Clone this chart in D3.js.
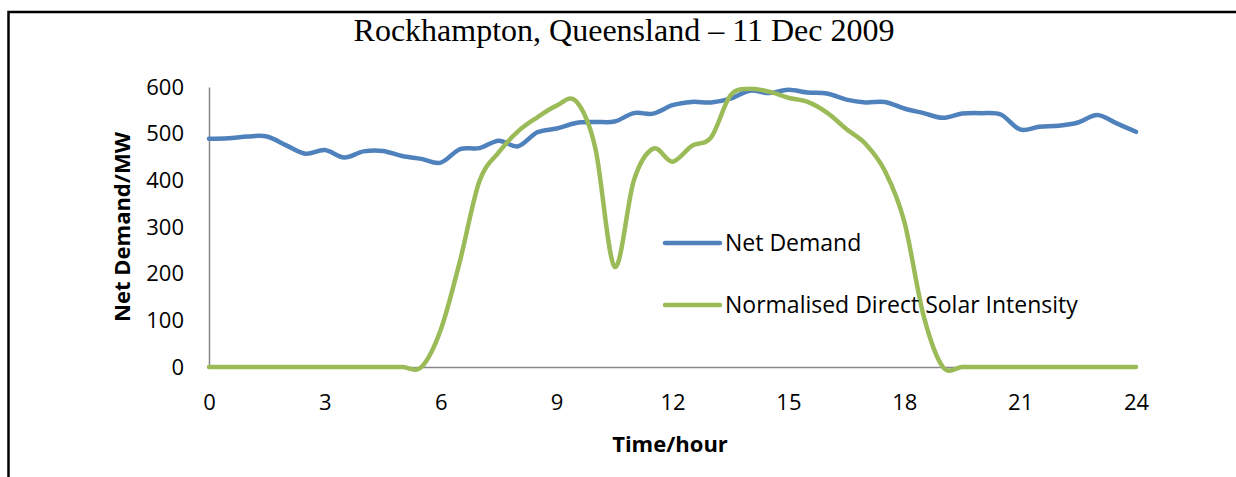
<!DOCTYPE html>
<html>
<head>
<meta charset="utf-8">
<script src="https://cdn.jsdelivr.net/npm/d3@7"></script>
<style>
  body { margin: 0; background: #fff; }
  svg { display: block; }
</style>
</head>
<body>
<svg id="chart"></svg>
<script>
// === Data === //

var hours = [0, 0.5, 1, 1.5, 2, 2.5, 3, 3.5, 4, 4.5, 5, 5.5, 6, 6.5, 7, 7.5, 8, 8.5, 9, 9.5,
  10, 10.5, 11, 11.5, 12, 12.5, 13, 13.5, 14, 14.5, 15, 15.5, 16, 16.5, 17, 17.5, 18, 18.5,
  19, 19.5, 20, 20.5, 21, 21.5, 22, 22.5, 23, 23.5, 24]

var netDemand = [489, 490, 494, 494, 475, 457, 465, 449, 462, 463, 452, 446, 438, 467, 469, 485, 473, 503, 511, 523,
  525, 526, 544, 543, 561, 568, 567, 575, 592, 587, 594, 588, 586, 573, 567, 568, 554, 544,
  534, 543, 544, 541, 509, 515, 517, 524, 540, 522, 504]

var solar = [0, 0, 0, 0, 0, 0, 0, 0, 0, 0, 0, 0, 80, 228, 398, 460, 505, 535, 560, 570,
  470, 215, 400, 468, 440, 474, 492, 582, 596, 590, 577, 568, 545, 510, 478, 420, 312, 110,
  0, 0, 0, 0, 0, 0, 0, 0, 0, 0, 0]

var seriesNames = ["Net Demand", "Normalised Direct Solar Intensity"]
var seriesColors = ["#4F81BD", "#9BBB59"]

var xTicks = [0, 3, 6, 9, 12, 15, 18, 21, 24]
var yTicks = [0, 100, 200, 300, 400, 500, 600]

var titleText = "Rockhampton, Queensland \u2013 11 Dec 2009"
var xTitle = "Time/hour"
var yTitle = "Net Demand/MW"

// === Set up canvas === //

var width = 1236
var height = 477

var marginleft = 209
var marginright = 100
var margintop = 87
var marginbottom = 110

var fontsize = 22
var sansFont = "'Open Sans', 'Noto Sans', sans-serif"

var svg = d3.select("#chart").attr("width", width).attr("height", height)

// frame (top + left only, the rest is cut off)
svg.append("path")
  .attr("d", "M8.5,477 L8.5,12 L1236,12")
  .attr("fill", "none")
  .attr("stroke", "#000")
  .attr("stroke-width", 2.5)

var x = d3.scaleLinear()
  .domain([0, 24])
  .range([marginleft, width - marginright])

var y = d3.scaleLinear()
  .domain([0, 600])
  .range([height - marginbottom, margintop])

// === Title === //

svg.append("text")
  .attr("x", 624)
  .attr("y", 41)
  .attr("text-anchor", "middle")
  .style("font-family", "'Liberation Serif', 'Times New Roman', serif")
  .style("font-size", "32px")
  .text(titleText)

// === Axes === //

var xAxis = svg.append("g")
  .attr("transform", "translate(0," + y(0) + ")")
  .call(d3.axisBottom(x).tickValues(xTicks).tickSize(0).tickPadding(27))

var yAxis = svg.append("g")
  .attr("transform", "translate(" + x(0) + ",0)")
  .call(d3.axisLeft(y).tickValues(yTicks).tickSize(0).tickPadding(25))

svg.selectAll(".domain").attr("stroke", "#868686").attr("stroke-width", 1.5)
svg.selectAll(".tick text")
  .style("font-family", sansFont)
  .style("font-size", fontsize + "px")
  .attr("fill", "#000")

svg.append("text")
  .attr("x", 670)
  .attr("y", 452)
  .attr("text-anchor", "middle")
  .style("font-family", sansFont)
  .style("font-size", fontsize + "px")
  .style("font-weight", "bold")
  .text(xTitle)

svg.append("text")
  .attr("transform", "translate(130," + 227 + ") rotate(-90)")
  .attr("text-anchor", "middle")
  .style("font-family", sansFont)
  .style("font-size", fontsize + "px")
  .style("font-weight", "bold")
  .text(yTitle)

// === Lines === //

var series = [netDemand, solar]

var line = d3.line()
  .x(function(d, i) { return x(hours[i]) })
  .y(function(d) { return y(d) })
  .curve(d3.curveCardinal)

series.forEach(function(values, k) {
  svg.append("path")
    .datum(values)
    .attr("d", line)
    .attr("fill", "none")
    .attr("stroke", seriesColors[k])
    .attr("stroke-width", 4.5)
    .attr("stroke-linecap", "round")
    .attr("stroke-linejoin", "round")
})

// === Legend === //

var legendX = 665
var legendY = [243, 305]

seriesNames.forEach(function(name, k) {
  var g = svg.append("g").attr("transform", "translate(" + legendX + "," + legendY[k] + ")")
  g.append("line")
    .attr("x1", 0).attr("x2", 55)
    .attr("stroke", seriesColors[k])
    .attr("stroke-width", 4.5)
    .attr("stroke-linecap", "round")
  g.append("text")
    .attr("x", 60)
    .attr("dy", "0.35em")
    .style("font-family", sansFont)
    .style("font-size", "23px")
    .text(name)
})
</script>
</body>
</html>
